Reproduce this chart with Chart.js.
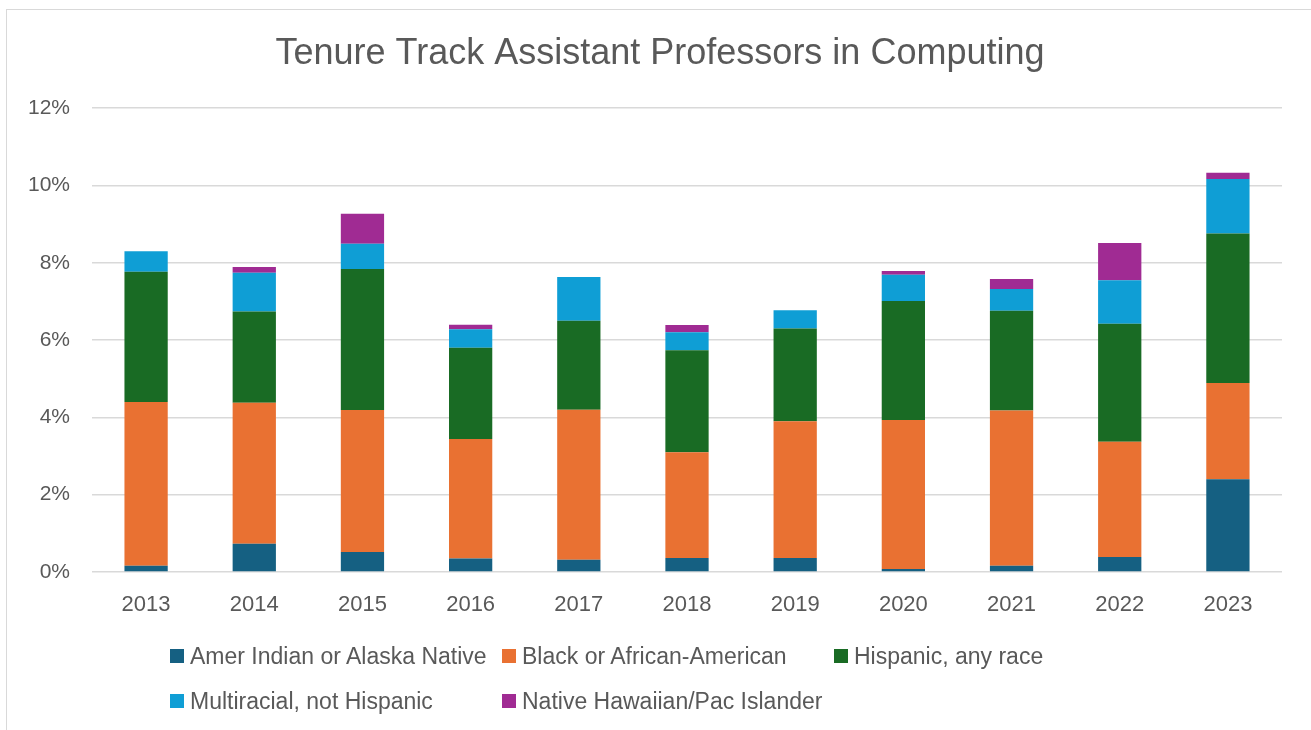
<!DOCTYPE html>
<html>
<head>
<meta charset="utf-8">
<script src="https://cdn.jsdelivr.net/npm/chart.js@4.4.1/dist/chart.umd.min.js"></script>
<style>
    body { margin: 0; background: #fff; }
    #wrap { position: relative; width: 1311px; height: 730px; overflow: hidden; }
    #frame { position: absolute; left: 6px; top: 9px; width: 1320px; height: 740px; border: 1px solid #d9d9d9; }
    #chart { position: absolute; left: 0; top: 0; }
    #legend { position: absolute; left: 0; top: 0; width: 1311px; font-family: "Liberation Sans", Arial, sans-serif; font-size: 23px; color: #595959; }
    .item { position: absolute; white-space: nowrap; height: 24px; display: flex; align-items: center; }
    .item span.box { display: inline-block; width: 14px; height: 14px; margin-right: 6px; }
</style>
</head>
<body>
<div id="wrap">
    <div id="frame"></div>
    <canvas id="chart" width="1311" height="730"></canvas>
    <div id="legend"></div>
</div>
<script>
// values in percent
const years = ['2013', '2014', '2015', '2016', '2017', '2018', '2019', '2020', '2021', '2022', '2023'];
const amerIndian = [0.16, 0.73, 0.52, 0.35, 0.32, 0.36, 0.36, 0.08, 0.16, 0.39, 2.40];
const black = [4.24, 3.65, 3.67, 3.09, 3.88, 2.74, 3.54, 3.85, 4.02, 2.98, 2.49];
const hispanic = [3.37, 2.36, 3.65, 2.36, 2.30, 2.64, 2.40, 3.08, 2.58, 3.05, 3.87];
const multiracial = [0.53, 1.00, 0.65, 0.48, 1.13, 0.46, 0.47, 0.68, 0.56, 1.13, 1.41];
const nativeHawaiian = [0, 0.15, 0.78, 0.12, 0, 0.19, 0, 0.10, 0.26, 0.96, 0.16];
const yTicks = [0, 2, 4, 6, 8, 10, 12];

const textColor = '#595959';
const font = "'Liberation Sans', Arial, sans-serif";

const datasets = [
    { label: 'Amer Indian or Alaska Native', data: amerIndian, backgroundColor: '#156082' },
    { label: 'Black or African-American', data: black, backgroundColor: '#E97132' },
    { label: 'Hispanic, any race', data: hispanic, backgroundColor: '#196B24' },
    { label: 'Multiracial, not Hispanic', data: multiracial, backgroundColor: '#0F9ED5' },
    { label: 'Native Hawaiian/Pac Islander', data: nativeHawaiian, backgroundColor: '#A02B93' }
];
datasets.forEach(d => {
    d.barPercentage = 0.8;
    d.categoryPercentage = 0.5;
    d.borderWidth = 0;
});

// title in the original sits a bit right of the canvas centre
const shiftTitle = {
    id: 'shiftTitle',
    afterLayout: (chart) => {
        if (chart.titleBlock) chart.titleBlock.left = 38;
    }
};

new Chart(document.getElementById('chart'), {
    type: 'bar',
    data: { labels: years, datasets: datasets },
    plugins: [shiftTitle],
    options: {
        responsive: false,
        animation: false,
        layout: { padding: { left: 0, right: 29, top: 0, bottom: 0 } },
        plugins: {
            legend: { display: false },
            tooltip: { enabled: false },
            title: {
                display: true,
                text: 'Tenure Track Assistant Professors in Computing',
                color: textColor,
                font: { family: font, size: 36, weight: 'normal' },
                padding: { top: 32, bottom: 33 }
            }
        },
        scales: {
            x: {
                stacked: true,
                grid: { display: false },
                border: { display: false },
                ticks: { color: textColor, font: { family: font, size: 22 }, padding: 12 },
                afterFit: (s) => { s.height = 158; }
            },
            y: {
                stacked: true,
                min: 0,
                max: 12,
                afterBuildTicks: (s) => { s.ticks = yTicks.map(v => ({ value: v })); },
                afterFit: (s) => { s.width = 92; },
                grid: { color: '#d9d9d9', lineWidth: 1.5, drawTicks: false },
                border: { display: false },
                ticks: {
                    color: textColor,
                    font: { family: font, size: 21 },
                    padding: 22,
                    callback: (v) => v + '%'
                }
            }
        }
    }
});

// legend laid out in columns like the original
const legendPos = [
    [170, 644], [502, 644], [834, 644],
    [170, 689], [502, 689]
];
const legend = document.getElementById('legend');
datasets.forEach((d, i) => {
    const el = document.createElement('div');
    el.className = 'item';
    el.style.left = legendPos[i][0] + 'px';
    el.style.top = legendPos[i][1] + 'px';
    el.innerHTML = '<span class="box" style="background:' + d.backgroundColor + '"></span>' + d.label;
    legend.appendChild(el);
});
</script>
</body>
</html>
